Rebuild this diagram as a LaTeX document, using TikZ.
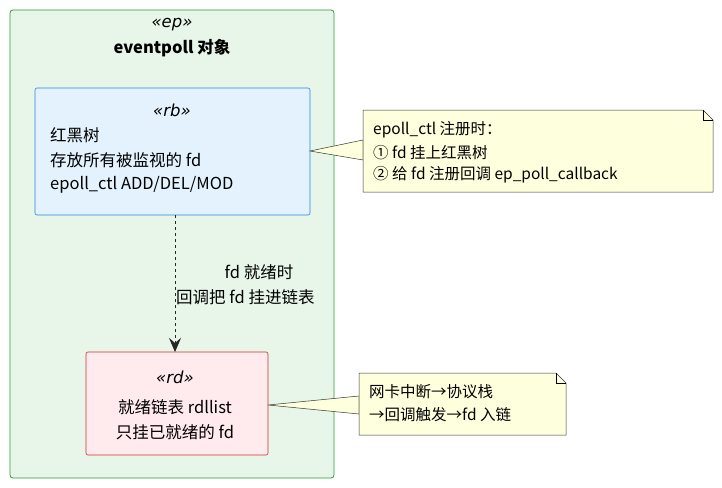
\documentclass[tikz,border=0pt]{standalone}
\usepackage{fontspec}
\setmainfont{Noto Sans CJK SC}
\newfontfamily\latf{DejaVu Sans}
\usetikzlibrary{arrows.meta}
\definecolor{gfill}{HTML}{E8F5E9}\definecolor{gline}{HTML}{2E9A3A}
\definecolor{bfill}{HTML}{E3F2FD}\definecolor{bline}{HTML}{2B86E0}
\definecolor{rfill}{HTML}{FFEBEE}\definecolor{rline}{HTML}{D32F2F}
\definecolor{nfill}{HTML}{FEFFDD}
\begin{document}
\begin{tikzpicture}[x=1pt,y=-1pt,
  lbl/.style={inner sep=0pt,font=\fontsize{16.5}{18}\selectfont},
  nlbl/.style={inner sep=0pt,anchor=west,font=\fontsize{15.5}{17}\selectfont},
  notebox/.style={fill=nfill,draw=black!80,line width=0.5pt}]
\useasboundingbox (0,0) rectangle (722,487);
% outer
\draw[fill=gfill,draw=gline,rounded corners=3pt,line width=0.8pt] (10,10) rectangle (334,478);
\node[lbl] (ept) at (172,25) {\latf\itshape «ep»};
\node[lbl] (epn) at (172,48) {\bfseries eventpoll 对象};
% rb
\draw[fill=bfill,draw=bline,rounded corners=2pt,line width=0.6pt] (35,88) rectangle (310,215);
\node (rb) at (172.5,151.5) [minimum width=275pt,minimum height=127pt,inner sep=0pt] {};
\node[lbl] at (172,110) {\latf\itshape «rb»};
\node[lbl,anchor=west] at (50,135) {红黑树};
\node[lbl,anchor=west] at (50,160) {存放所有被监视的 fd};
\node[lbl,anchor=west] at (50,185) {epoll\_ctl ADD/DEL/MOD};
% rd
\draw[fill=rfill,draw=rline,rounded corners=2pt,line width=0.6pt] (86,352) rectangle (268,455);
\node (rd) at (177,403.5) [minimum width=182pt,minimum height=103pt,inner sep=0pt] {};
\node[lbl] at (175,377) {\latf\itshape «rd»};
\node[lbl] at (175,407) {就绪链表 rdllist};
\node[lbl] at (175,432) {只挂已就绪的 fd};
% arrow
\coordinate (a1) at (175,215);
\coordinate (a2) at (175,352);
\draw[dashed,line width=0.9pt,draw=black!85,-{Stealth[length=14pt,width=12pt,inset=5pt]}] (a1) -- (a2);
\node[lbl] at (259,272) {fd 就绪时};
\node[lbl,anchor=west] at (176,297) {回调把 fd 挂进链表};
% note1
\draw[notebox] (310,151) -- (363,140) -- (363,160) -- cycle;
\draw[notebox] (363,110) -- (703,110) -- (713,120) -- (713,192) -- (363,192) -- cycle;
\draw[line width=0.5pt] (703,110) -- (703,120) -- (713,120);
\node[nlbl] at (373,130) {epoll\_ctl 注册时：};
\node[nlbl] at (373,153) {① fd 挂上红黑树};
\node[nlbl] at (373,175) {② 给 fd 注册回调 ep\_poll\_callback};
% note2
\draw[notebox] (268,405) -- (359,396) -- (359,414) -- cycle;
\draw[notebox] (359,373) -- (556,373) -- (566,383) -- (566,435) -- (359,435) -- cycle;
\draw[line width=0.5pt] (556,373) -- (556,383) -- (566,383);
\node[nlbl] at (369,392) {网卡中断→协议栈};
\node[nlbl] at (369,415) {→回调触发→fd 入链};
\end{tikzpicture}
\end{document}
